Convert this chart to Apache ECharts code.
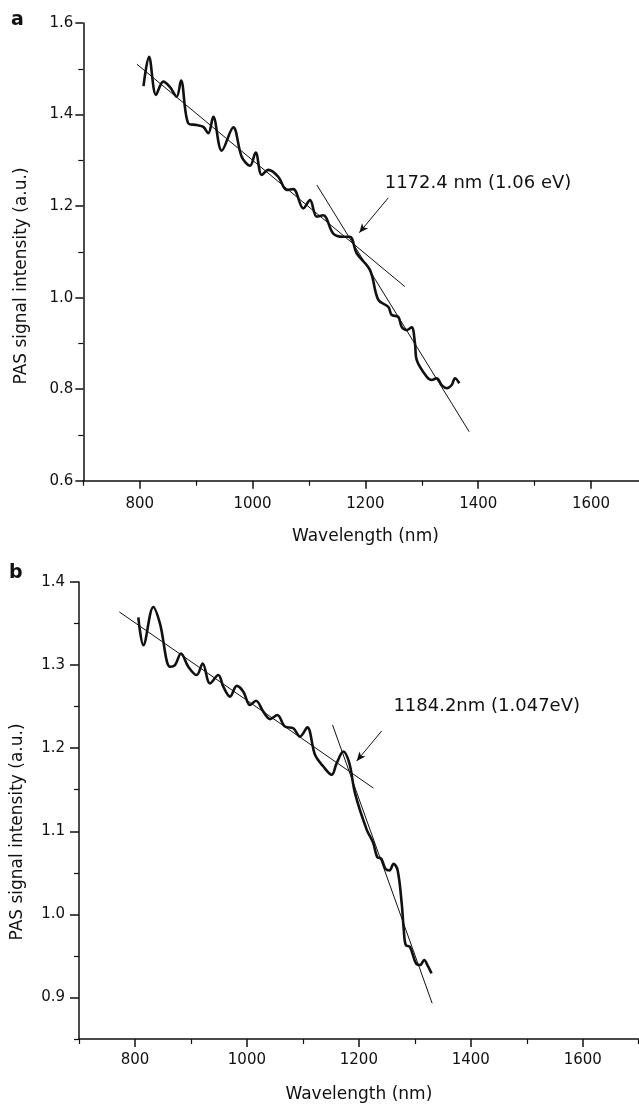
<!DOCTYPE html>
<html>
<head>
<meta charset="utf-8">
<script src="https://cdn.jsdelivr.net/npm/echarts@6/dist/echarts.min.js"></script>
<style>
html,body{margin:0;padding:0;background:#fff;}
#c{width:639px;height:1105px;}
</style>
</head>
<body>
<div id="c"></div>
<script>
// ---------- Panel a data ----------
const aWavelength = [806.7,816.5,828.9,841.8,853.7,865.5,873.2,886.0,901.0,912.7,921.6,930.4,945.3,965.9,980.7,995.5,1005.5,1016.2,1027.9,1045.6,1060.5,1072.2,1089.9,1101.8,1113.7,1125.4,1143.0,1160.8,1172.7,1184.5,1208.2,1222.9,1240.6,1246.6,1258.3,1264.3,1273.2,1282.0,1287.9,1290.9,1308.7,1317.5,1326.4,1335.2,1344.1,1353.0,1358.8,1366.5];
const aSignal     = [1.462,1.526,1.443,1.472,1.460,1.439,1.474,1.381,1.377,1.373,1.359,1.395,1.321,1.372,1.308,1.288,1.317,1.268,1.279,1.264,1.235,1.237,1.195,1.213,1.177,1.180,1.140,1.133,1.133,1.097,1.060,0.995,0.980,0.962,0.958,0.936,0.929,0.935,0.900,0.864,0.827,0.820,0.824,0.809,0.802,0.809,0.824,0.813];
const aFit1X = [795, 1270];  const aFit1Y = [1.510, 1.024];
const aFit2X = [1114, 1384]; const aFit2Y = [1.246, 0.707];
const aArrowX = [1240.6, 1189.2]; const aArrowY = [1.218, 1.142];
const aNoteText = '1172.4 nm (1.06 eV)'; const aNoteX = 1399.6; const aNoteY = 1.2504;

// ---------- Panel b data ----------
const bWavelength = [806,815,832.8,844.7,862.6,871.5,882.2,895.3,910.3,921,934,948.9,957.8,969.8,981.8,993.6,1005.5,1016.2,1029.3,1041.3,1054.3,1068,1082.9,1094.9,1107.9,1121.7,1136.5,1151.5,1160.4,1172.3,1183,1193.1,1214,1225.6,1232.8,1240.1,1247.4,1254.8,1262,1269.3,1276.6,1280.3,1283.9,1291.2,1302.1,1309.4,1316.6,1323.9,1329.8];
const bSignal     = [1.3575,1.324,1.370,1.350,1.298,1.300,1.314,1.298,1.288,1.302,1.278,1.288,1.274,1.262,1.275,1.268,1.252,1.257,1.244,1.235,1.240,1.226,1.224,1.214,1.225,1.192,1.178,1.168,1.182,1.196,1.182,1.146,1.102,1.086,1.069,1.067,1.055,1.053,1.061,1.053,1.013,0.981,0.963,0.961,0.941,0.939,0.945,0.937,0.929];
const bFit1X = [772, 1226];  const bFit1Y = [1.364, 1.152];
const bFit2X = [1153, 1331]; const bFit2Y = [1.228, 0.893];
const bArrowX = [1240.8, 1196.2]; const bArrowY = [1.2207, 1.1846];
const bNoteText = '1184.2nm (1.047eV)'; const bNoteX = 1428.4; const bNoteY = 1.2508;

// ---------- Axis ticks ----------
const xMajorTicks = [800, 1000, 1200, 1400, 1600];
const xMinorTicks = [700, 900, 1100, 1300, 1500, 1700];
const aYMajorTicks = [0.6, 0.8, 1.0, 1.2, 1.4, 1.6];
const aYMinorTicks = [0.7, 0.9, 1.1, 1.3, 1.5];
const bYMajorTicks = [0.9, 1.0, 1.1, 1.2, 1.3, 1.4];
const bYMinorTicks = [0.85, 0.95, 1.05, 1.15, 1.25, 1.35];
const xName = 'Wavelength (nm)';
const yName = 'PAS signal intensity (a.u.)';

const zip = (xs, ys) => xs.map((x, i) => [x, ys[i]]);
const INK = '#111';
const FONT = 'DejaVu Sans';

function xMain(grid, margin) {
  return {
    type: 'value', gridIndex: grid, min: 700, max: 1700, position: 'bottom',
    axisLine: { show: true, lineStyle: { color: INK, width: 1.5 } },
    axisTick: { show: true, customValues: xMajorTicks, length: 8, lineStyle: { color: INK, width: 1.5 } },
    axisLabel: { show: true, customValues: xMajorTicks, margin: margin, color: INK, fontFamily: FONT, fontSize: 15, formatter: v => String(Math.round(v)) },
    splitLine: { show: false },
    name: xName, nameLocation: 'middle', nameGap: 47,
    nameTextStyle: { color: INK, fontFamily: FONT, fontSize: 17 }
  };
}
function xMinor(grid) {
  return {
    type: 'value', gridIndex: grid, min: 700, max: 1700, position: 'bottom',
    axisLine: { show: false },
    axisTick: { show: true, customValues: xMinorTicks, length: 5, lineStyle: { color: INK, width: 1.2 } },
    axisLabel: { show: false }, splitLine: { show: false }
  };
}
function yMain(grid, min, max, major, margin, tickLen) {
  return {
    type: 'value', gridIndex: grid, min: min, max: max, position: 'left',
    axisLine: { show: true, lineStyle: { color: INK, width: 1.5 } },
    axisTick: { show: true, customValues: major, length: tickLen, lineStyle: { color: INK, width: 1.5 } },
    axisLabel: { show: true, customValues: major, margin: margin, color: INK, fontFamily: FONT, fontSize: 15, formatter: v => v.toFixed(1) },
    splitLine: { show: false }
  };
}
function yMinor(grid, min, max, minor) {
  return {
    type: 'value', gridIndex: grid, min: min, max: max, position: 'left',
    axisLine: { show: false },
    axisTick: { show: true, customValues: minor, length: 5, lineStyle: { color: INK, width: 1.2 } },
    axisLabel: { show: false }, splitLine: { show: false }
  };
}

function panelSeries(xi, yi, wl, sig, f1x, f1y, f2x, f2y, arX, arY, noteText, nx, ny) {
  return [
    { type: 'line', xAxisIndex: xi, yAxisIndex: yi, data: zip(wl, sig), showSymbol: false, smooth: 0.35,
      lineStyle: { color: INK, width: 2.6 }, z: 3 },
    { type: 'line', xAxisIndex: xi, yAxisIndex: yi, data: zip(f1x, f1y), showSymbol: false,
      lineStyle: { color: INK, width: 1 }, z: 2,
      markLine: { silent: true, symbol: ['none', 'arrow'], symbolSize: [6, 9], label: { show: false },
        lineStyle: { color: INK, width: 1, type: 'solid' },
        data: [[{ coord: [arX[0], arY[0]] }, { coord: [arX[1], arY[1]] }]] } },
    { type: 'line', xAxisIndex: xi, yAxisIndex: yi, data: zip(f2x, f2y), showSymbol: false,
      lineStyle: { color: INK, width: 1 }, z: 2 },
    { type: 'scatter', xAxisIndex: xi, yAxisIndex: yi, data: [[nx, ny]], symbolSize: 0,
      itemStyle: { opacity: 1, color: INK },
      label: { show: true, position: 'inside', formatter: noteText, color: INK, fontFamily: FONT, fontSize: 18 } }
  ];
}

const chart = echarts.init(document.getElementById('c'), null, { renderer: 'canvas' });
const option = {
  animation: false,
  backgroundColor: '#fff',
  grid: [
    { left: 83.3, top: 23, right: -8.5, bottom: 624.3, outerBoundsMode: 'none', containLabel: false },
    { left: 79, top: 582, right: 0.3, bottom: 66, outerBoundsMode: 'none', containLabel: false }
  ],
  xAxis: [xMain(0, 16), xMinor(0), xMain(1, 14), xMinor(1)],
  yAxis: [
    yMain(0, 0.6, 1.6, aYMajorTicks, 10, 8), yMinor(0, 0.6, 1.6, aYMinorTicks),
    yMain(1, 0.85, 1.4, bYMajorTicks, 14, 9), yMinor(1, 0.85, 1.4, bYMinorTicks)
  ],
  series: [
    ...panelSeries(0, 0, aWavelength, aSignal, aFit1X, aFit1Y, aFit2X, aFit2Y, aArrowX, aArrowY, aNoteText, aNoteX, aNoteY),
    ...panelSeries(2, 2, bWavelength, bSignal, bFit1X, bFit1Y, bFit2X, bFit2Y, bArrowX, bArrowY, bNoteText, bNoteX, bNoteY)
  ],
  graphic: [
    { type: 'text', left: 11, top: 11, style: { text: 'a', fontFamily: FONT, fontWeight: 'bold', fontSize: 19, fill: INK } },
    { type: 'text', left: 9, top: 564, style: { text: 'b', fontFamily: FONT, fontWeight: 'bold', fontSize: 19, fill: INK } },
    { type: 'text', x: 22, y: 276, rotation: Math.PI / 2, style: { text: yName, fontFamily: FONT, fontSize: 17, fill: INK, align: 'center', verticalAlign: 'middle' } },
    { type: 'text', x: 18, y: 832, rotation: Math.PI / 2, style: { text: yName, fontFamily: FONT, fontSize: 17, fill: INK, align: 'center', verticalAlign: 'middle' } }
  ]
};
chart.setOption(option);
</script>
</body>
</html>
